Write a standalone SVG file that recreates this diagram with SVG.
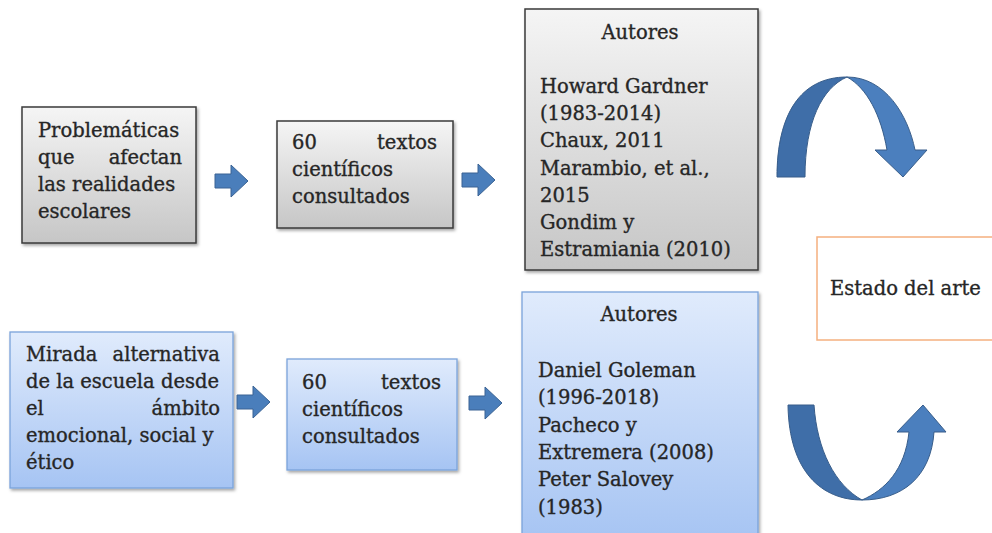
<svg xmlns="http://www.w3.org/2000/svg" width="992" height="533" viewBox="0 0 992 533">
<defs>
<linearGradient id="gGray" x1="0" y1="0" x2="0" y2="1"><stop offset="0" stop-color="#f5f5f5"/><stop offset="1" stop-color="#c6c6c6"/></linearGradient>
<linearGradient id="gBlue" x1="0" y1="0" x2="0" y2="1"><stop offset="0" stop-color="#e0ebfc"/><stop offset="1" stop-color="#a6c4f3"/></linearGradient>
<filter id="sh" x="-10%" y="-10%" width="130%" height="130%"><feDropShadow dx="1.5" dy="2" stdDeviation="1.5" flood-color="#000" flood-opacity="0.35"/></filter>
<path id="rarrow" d="M0,-7 L16,-7 L16,-16 L33,0 L16,16 L16,7 L0,7 Z"/>
</defs>
<style>
.gray{fill:url(#gGray);stroke:#3a3a3a;stroke-width:1.5;filter:url(#sh)}
.blue{fill:url(#gBlue);stroke:#7aa3da;stroke-width:1.3;filter:url(#sh)}
.t{font-family:"DejaVu Serif","Liberation Serif",serif;font-size:19.5px;fill:#262626;stroke:#262626;stroke-width:0.35}
.e{text-anchor:end}
.m{text-anchor:middle}
.ba{fill:#4a7ebb;stroke:#3a6394;stroke-width:1}
.dk{fill:#3f6ea8;stroke:#385d8a;stroke-width:1}
.lt{fill:#4b7fbe;stroke:#385d8a;stroke-width:1}
</style>
<g id="n1">
<rect class="gray" x="22" y="107" width="174" height="136"/>
<text class="t" x="38" y="137">Problemáticas</text>
<text class="t" x="38" y="164">que</text><text class="t e" x="182" y="164">afectan</text>
<text class="t" x="38" y="191">las realidades</text>
<text class="t" x="38" y="218">escolares</text>
</g>
<g id="n2">
<rect class="gray" x="277" y="121" width="176" height="107"/>
<text class="t" x="292" y="149">60</text><text class="t e" x="437" y="149">textos</text>
<text class="t" x="292" y="176">científicos</text>
<text class="t" x="292" y="203">consultados</text>
</g>
<g id="n3">
<rect class="gray" x="525" y="9" width="233" height="261"/>
<text class="t m" x="640" y="39">Autores</text>
<text class="t" x="540" y="93">Howard Gardner</text>
<text class="t" x="540" y="120">(1983-2014)</text>
<text class="t" x="540" y="147">Chaux, 2011</text>
<text class="t" x="540" y="175">Marambio, et al.,</text>
<text class="t" x="540" y="202">2015</text>
<text class="t" x="540" y="229">Gondim y</text>
<text class="t" x="540" y="256">Estramiania (2010)</text>
</g>
<g id="n4">
<rect class="blue" x="10" y="332" width="223" height="156"/>
<text class="t" x="26" y="361">Mirada</text><text class="t e" x="220" y="361">alternativa</text>
<text class="t" x="26" y="388">de la escuela desde</text>
<text class="t" x="26" y="415">el</text><text class="t e" x="220" y="415">ámbito</text>
<text class="t" x="26" y="442">emocional, social y</text>
<text class="t" x="26" y="469">ético</text>
</g>
<g id="n5">
<rect class="blue" x="287" y="359" width="170" height="111"/>
<text class="t" x="302" y="389">60</text><text class="t e" x="441" y="389">textos</text>
<text class="t" x="302" y="416">científicos</text>
<text class="t" x="302" y="443">consultados</text>
</g>
<g id="n6">
<rect class="blue" x="522" y="292" width="236" height="250"/>
<text class="t m" x="639" y="321">Autores</text>
<text class="t" x="538" y="377">Daniel Goleman</text>
<text class="t" x="538" y="404">(1996-2018)</text>
<text class="t" x="538" y="432">Pacheco y</text>
<text class="t" x="538" y="459">Extremera (2008)</text>
<text class="t" x="538" y="486">Peter Salovey</text>
<text class="t" x="538" y="514">(1983)</text>
</g>
<g id="n7">
<rect x="817" y="237" width="190" height="103" fill="#fff" stroke="#f5b07f" stroke-width="1.5"/>
<text class="t" x="830" y="295">Estado del arte</text>
</g>
<g id="connectors">
<use href="#rarrow" class="ba" x="215" y="181"/>
<use href="#rarrow" class="ba" x="462" y="180"/>
<use href="#rarrow" class="ba" x="237" y="402"/>
<use href="#rarrow" class="ba" x="469" y="403"/>
<path class="dk" d="M777,177 C777,115 800,77 847,77 C822,88 805,122 805,177 Z"/>
<path class="lt" d="M847,77 C885,77 908,115 915,150 L927,150 L903,177 L875,150 L887,150 C881,115 867,88 847,77 Z"/>
<path class="dk" d="M788,405 L814,405 C817,450 835,485 862,500 C822,500 789,472 788,405 Z"/>
<path class="lt" d="M862,500 C885,490 905,470 909,432 L897,432 L923,405 L946,432 L934,432 C931,477 902,500 862,500 Z"/>
</g>
</svg>
